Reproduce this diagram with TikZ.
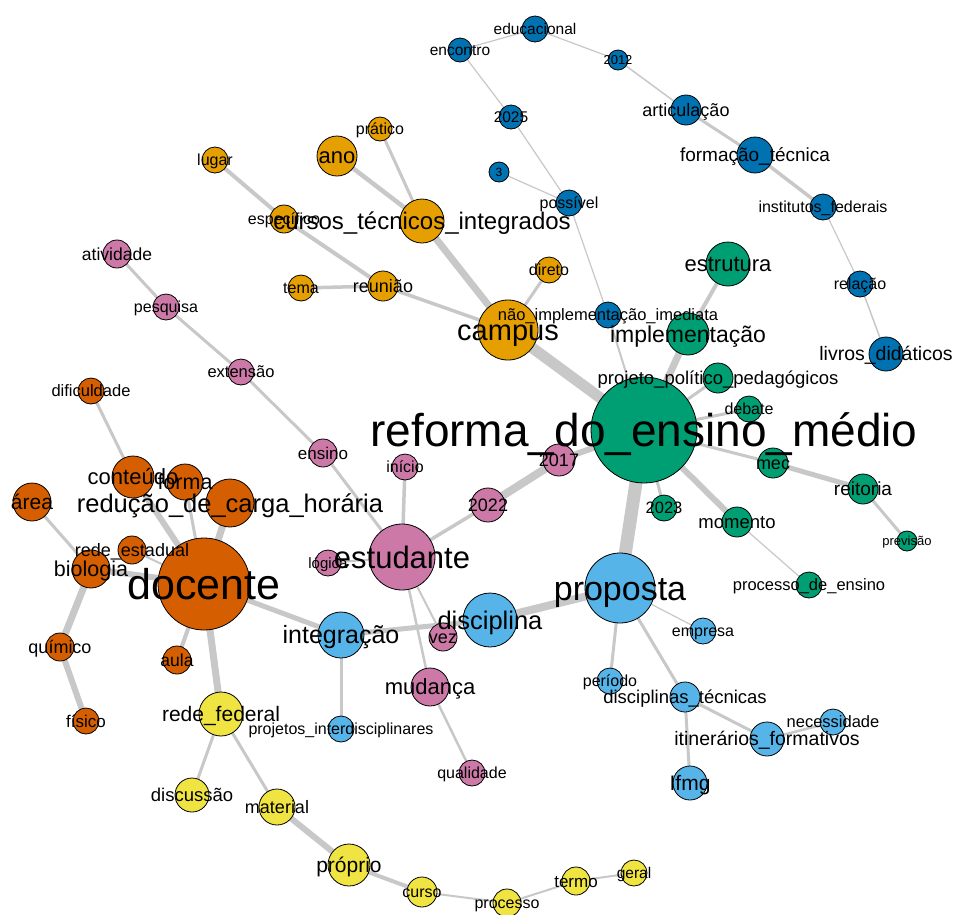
\documentclass[tikz,border=0pt]{standalone}
\usepackage{fontspec}
\setmainfont{Liberation Sans}
\pgfdeclarelayer{bglayer}
\pgfdeclarelayer{edgelayer}
\pgfdeclarelayer{labellayer}
\pgfsetlayers{bglayer,edgelayer,main,labellayer}
\definecolor{cgreen}{HTML}{009E73}
\definecolor{cverm}{HTML}{D55E00}
\definecolor{corange}{HTML}{E69F00}
\definecolor{csky}{HTML}{56B4E9}
\definecolor{cblue}{HTML}{0072B2}
\definecolor{cpink}{HTML}{CC79A7}
\definecolor{cyellow}{HTML}{F0E442}
\definecolor{edgegray}{RGB}{200,200,200}
\tikzset{
  vert/.style={circle, draw=black, line width=0.8pt, inner sep=0pt, outer sep=0pt},
  lbl/.style={anchor=base, inner sep=0pt, outer sep=0pt, text=black},
  edgeline/.style={draw=edgegray, line cap=butt}
}
\newcommand{\vtx}[7]{%
  \node[vert, fill=#5, minimum size={2*#4pt}] (#1) at (#2,#3) {};
  \begin{pgfonlayer}{labellayer}
    \node[lbl, font=\fontsize{#6}{#6}\selectfont, yshift={-0.358*#6pt}] (#1-t) at (#1.center) {#7};
  \end{pgfonlayer}}
\newcommand{\edg}[3]{%
  \begin{pgfonlayer}{edgelayer}
    \draw[edgeline, line width=#3pt] (#1.center) -- (#2.center);
  \end{pgfonlayer}}
\begin{document}
\begin{tikzpicture}[x=1pt,y=-1pt]
\begin{pgfonlayer}{bglayer}
  \fill[white] (0,0) rectangle (954,914);
\end{pgfonlayer}
\useasboundingbox (0,0) rectangle (954,914);
% blue
\vtx{educ}{535}{29}{13}{cblue}{15.5}{educacional}
\vtx{encontro}{460}{50}{12}{cblue}{15.5}{encontro}
\vtx{y2012}{618}{60}{10}{cblue}{13}{2012}
\vtx{artic}{686}{110}{15}{cblue}{18}{articulação}
\vtx{formtec}{755}{155}{18}{cblue}{19}{formação\_técnica}
\vtx{y2025}{511}{117}{12}{cblue}{15.5}{2025}
\vtx{tres}{499}{172}{10}{cblue}{12}{3}
\vtx{possivel}{569}{203}{13}{cblue}{16}{possível}
\vtx{instfed}{823}{207}{13}{cblue}{16}{institutos\_federais}
\vtx{relacao}{860}{284}{13}{cblue}{16}{relação}
\vtx{livros}{886}{354}{17}{cblue}{19.5}{livros\_didáticos}
\vtx{naoimp}{608}{315}{13}{cblue}{16.5}{não\_implementação\_imediata}
% orange
\vtx{pratico}{380}{129}{12}{corange}{16}{prático}
\vtx{ano}{337}{156}{20}{corange}{22}{ano}
\vtx{lugar}{215}{160}{13}{corange}{16}{lugar}
\vtx{cursos}{422}{221}{22}{corange}{24}{cursos\_técnicos\_integrados}
\vtx{especif}{284}{219}{14}{corange}{16}{específico}
\vtx{tema}{301}{288}{13}{corange}{16}{tema}
\vtx{reuniao}{383}{286}{15}{corange}{18}{reunião}
\vtx{direto}{549}{270}{13}{corange}{16}{direto}
\vtx{campus}{508}{330}{30}{corange}{29}{campus}
% green
\vtx{reforma}{644}{430}{53}{cgreen}{46}{reforma\_do\_ensino\_médio}
\vtx{estrutura}{728}{264}{22}{cgreen}{22}{estrutura}
\vtx{implem}{688}{334}{21}{cgreen}{23}{implementação}
\vtx{projeto}{718}{378}{15}{cgreen}{18.5}{projeto\_político\_pedagógicos}
\vtx{debate}{749}{409}{13}{cgreen}{16}{debate}
\vtx{mec}{773}{463}{15}{cgreen}{18}{mec}
\vtx{reitoria}{863}{489}{15}{cgreen}{19}{reitoria}
\vtx{previsao}{907}{541}{10}{cgreen}{13}{previsão}
\vtx{y2023}{664}{508}{13}{cgreen}{16.5}{2023}
\vtx{momento}{737}{522}{15}{cgreen}{18.5}{momento}
\vtx{procens}{809}{585}{13}{cgreen}{16.5}{processo\_de\_ensino}
% pink
\vtx{atividade}{117}{254}{14}{cpink}{17.5}{atividade}
\vtx{pesquisa}{166}{307}{13}{cpink}{16}{pesquisa}
\vtx{extensao}{241}{372}{13}{cpink}{16.5}{extensão}
\vtx{ensino}{323}{453}{14}{cpink}{17}{ensino}
\vtx{inicio}{405}{467}{13}{cpink}{16}{início}
\vtx{y2017}{559}{460}{16}{cpink}{18}{2017}
\vtx{y2022}{488}{505}{17}{cpink}{18}{2022}
\vtx{estudante}{402}{557}{33}{cpink}{31}{estudante}
\vtx{logica}{328}{563}{13}{cpink}{15}{lógica}
\vtx{vez}{443}{637}{14}{cpink}{18}{vez}
\vtx{mudanca}{430}{687}{19}{cpink}{22}{mudança}
\vtx{qualidade}{472}{773}{13}{cpink}{16}{qualidade}
% sky
\vtx{integracao}{341}{635}{23}{csky}{25}{integração}
\vtx{disciplina}{490}{620}{27}{csky}{25.5}{disciplina}
\vtx{proposta}{620}{588}{35}{csky}{34}{proposta}
\vtx{projint}{341}{729}{13}{csky}{16}{projetos\_interdisciplinares}
\vtx{empresa}{703}{631}{13}{csky}{16}{empresa}
\vtx{periodo}{610}{681}{13}{csky}{16}{período}
\vtx{disctec}{685}{697}{15}{csky}{18.5}{disciplinas\_técnicas}
\vtx{itiner}{767}{739}{17}{csky}{19.5}{itinerários\_formativos}
\vtx{necess}{833}{722}{13}{csky}{16.5}{necessidade}
\vtx{ifmg}{690}{783}{17}{csky}{21}{Ifmg}
% vermillion
\vtx{dificuldade}{91}{391}{13}{cverm}{16.5}{dificuldade}
\vtx{conteudo}{133}{477}{21}{cverm}{22}{conteúdo}
\vtx{forma}{185}{482}{18}{cverm}{21.5}{forma}
\vtx{reducao}{230}{503}{24}{cverm}{25.5}{redução\_de\_carga\_horária}
\vtx{area}{32}{502}{19}{cverm}{21}{área}
\vtx{redeest}{132}{550}{14}{cverm}{18}{rede\_estadual}
\vtx{biologia}{91}{569}{19}{cverm}{21.5}{biologia}
\vtx{docente}{204}{584}{46}{cverm}{43}{docente}
\vtx{quimico}{60}{647}{14}{cverm}{18}{químico}
\vtx{aula}{177}{660}{14}{cverm}{17.5}{aula}
\vtx{fisico}{86}{721}{13}{cverm}{17}{físico}
% yellow
\vtx{redefed}{221}{714}{22}{cyellow}{21}{rede\_federal}
\vtx{discussao}{192}{795}{17}{cyellow}{18.5}{discussão}
\vtx{material}{277}{807}{18}{cyellow}{18}{material}
\vtx{proprio}{349}{865}{21}{cyellow}{21}{próprio}
\vtx{curso}{422}{892}{15}{cyellow}{16}{curso}
\vtx{processo}{507}{903}{14}{cyellow}{16}{processo}
\vtx{termo}{576}{881}{14}{cyellow}{17}{termo}
\vtx{geral}{634}{873}{13}{cyellow}{15.5}{geral}
% edges blue
\edg{encontro}{educ}{1.2}
\edg{educ}{y2012}{1.2}
\edg{y2012}{artic}{1.5}
\edg{artic}{formtec}{3}
\edg{formtec}{instfed}{3.5}
\edg{instfed}{relacao}{1.2}
\edg{relacao}{livros}{1.5}
\edg{encontro}{y2025}{1.2}
\edg{y2025}{possivel}{1.2}
\edg{tres}{possivel}{1.2}
\edg{possivel}{naoimp}{1.2}
\edg{naoimp}{reforma}{2}
% edges orange
\edg{lugar}{especif}{4}
\edg{especif}{reuniao}{4}
\edg{reuniao}{campus}{3.5}
\edg{tema}{reuniao}{3.5}
\edg{ano}{cursos}{4.5}
\edg{pratico}{cursos}{3}
\edg{cursos}{campus}{7}
\edg{direto}{campus}{3}
\edg{campus}{reforma}{11}
% edges green
\edg{reforma}{implem}{7}
\edg{implem}{estrutura}{4}
\edg{reforma}{projeto}{3}
\edg{reforma}{debate}{3}
\edg{reforma}{mec}{3}
\edg{mec}{reitoria}{5}
\edg{reitoria}{previsao}{3}
\edg{reforma}{y2023}{3}
\edg{reforma}{momento}{6}
\edg{momento}{procens}{1.2}
% edges pink
\edg{atividade}{pesquisa}{3}
\edg{pesquisa}{extensao}{3}
\edg{extensao}{ensino}{3}
\edg{ensino}{estudante}{3}
\edg{inicio}{estudante}{3.5}
\edg{estudante}{y2022}{3.5}
\edg{y2022}{y2017}{8}
\edg{y2017}{reforma}{6}
\edg{logica}{estudante}{2}
\edg{estudante}{mudanca}{2.5}
\edg{estudante}{vez}{2}
\edg{mudanca}{qualidade}{2.5}
% edges sky
\edg{docente}{integracao}{5}
\edg{integracao}{disciplina}{5}
\edg{disciplina}{proposta}{8}
\edg{proposta}{reforma}{13}
\edg{integracao}{projint}{3}
\edg{proposta}{empresa}{1.2}
\edg{proposta}{periodo}{3}
\edg{proposta}{disctec}{3}
\edg{disctec}{itiner}{3}
\edg{disctec}{ifmg}{3}
\edg{itiner}{necess}{2.5}
% edges vermillion
\edg{dificuldade}{conteudo}{3}
\edg{conteudo}{docente}{6}
\edg{forma}{docente}{3}
\edg{reducao}{docente}{7}
\edg{area}{biologia}{3}
\edg{biologia}{docente}{6}
\edg{redeest}{docente}{2}
\edg{biologia}{quimico}{7}
\edg{quimico}{fisico}{6}
\edg{aula}{docente}{4}
\edg{docente}{redefed}{7}
% edges yellow
\edg{redefed}{discussao}{3}
\edg{redefed}{material}{3}
\edg{material}{proprio}{6}
\edg{proprio}{curso}{4}
\edg{curso}{processo}{2}
\edg{processo}{termo}{2}
\edg{termo}{geral}{2}
\end{tikzpicture}
\end{document}
